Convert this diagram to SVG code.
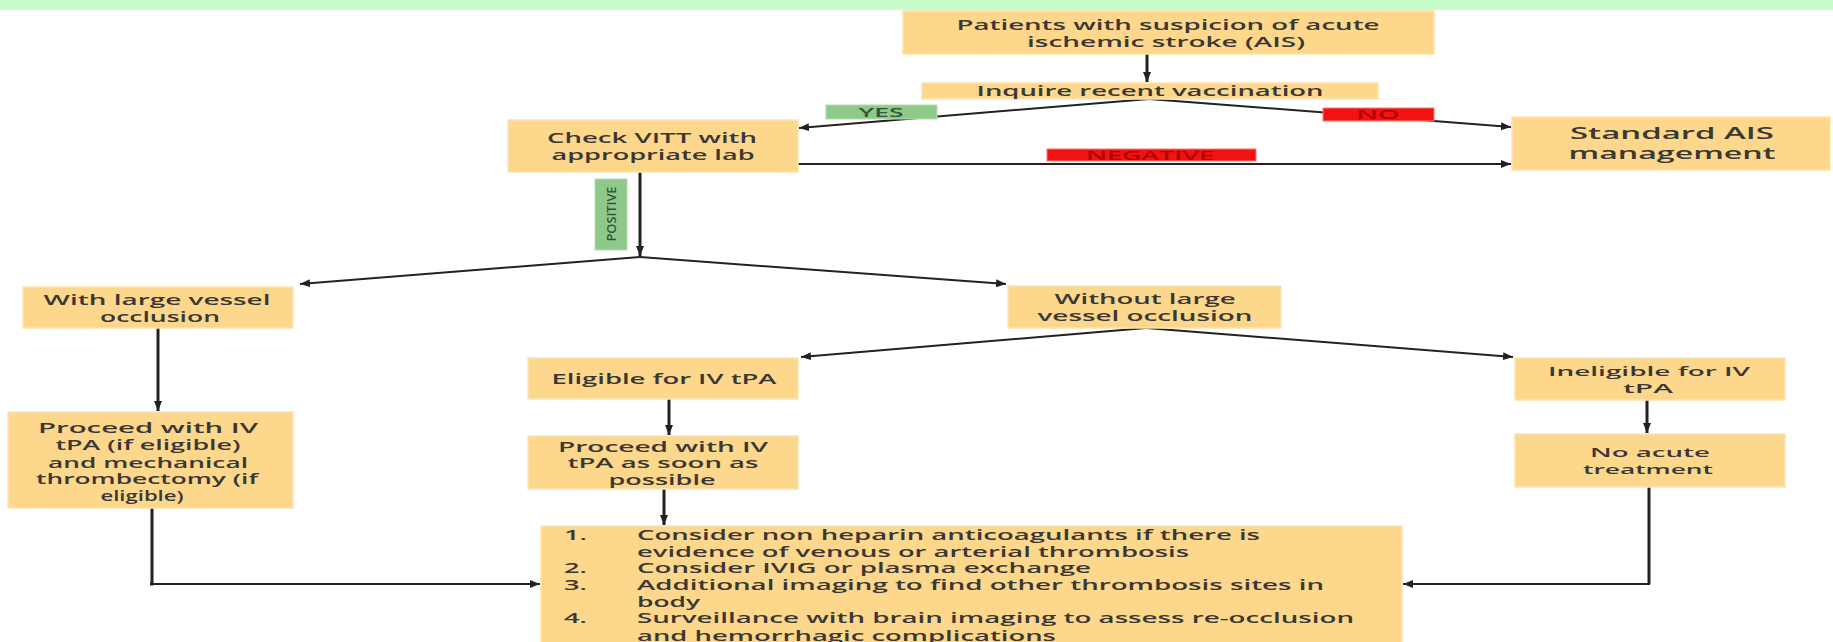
<svg xmlns="http://www.w3.org/2000/svg" width="1833" height="642" viewBox="0 0 1833 642">
<style>
.box{fill:#fcd78c;stroke:#fbe4b4;stroke-width:1.5}
.t{font-family:"Open Sans","Liberation Sans",sans-serif;font-weight:600;font-size:14px;fill:#3a3835;text-anchor:middle}
.tl{font-family:"Open Sans","Liberation Sans",sans-serif;font-weight:600;font-size:14px;fill:#3a3835;text-anchor:start}
.sm{font-size:12.5px}
.big{font-size:17px}
.c{fill:none;stroke:#222;stroke-width:2}
.k{fill:none;stroke:#222;stroke-width:3}
.g{fill:#8fc98a;stroke:#b5dcb0;stroke-width:1}
.r{fill:#f31212;stroke:#f87a7a;stroke-width:1}
.lg{font-family:"Open Sans","Liberation Sans",sans-serif;font-weight:600;font-size:12px;fill:#33553a;text-anchor:middle}
.lr{font-family:"Open Sans","Liberation Sans",sans-serif;font-weight:600;font-size:12px;fill:#b00000;text-anchor:middle}
</style>
<defs>
<marker id="ah" markerUnits="userSpaceOnUse" markerWidth="11" markerHeight="9" refX="10" refY="4" orient="auto">
<path d="M0,0 L10,4 L0,8 z" fill="#222"/>
</marker>
</defs>
<rect x="0" y="0" width="1833" height="642" fill="#ffffff"/>
<rect x="0" y="0" width="1833" height="10" fill="#c8fdcb"/>

<g id="connectors">
<line class="k" x1="1147" y1="54" x2="1147" y2="82" marker-end="url(#ah)"/>
<line class="c" x1="1149" y1="99" x2="799" y2="128" marker-end="url(#ah)"/>
<line class="c" x1="1149" y1="99" x2="1511" y2="127" marker-end="url(#ah)"/>
<line class="c" x1="798" y1="164" x2="1511" y2="164" marker-end="url(#ah)"/>
<line class="k" x1="640" y1="172" x2="640" y2="256" marker-end="url(#ah)"/>
<line class="c" x1="640" y1="257" x2="300" y2="284" marker-end="url(#ah)"/>
<line class="c" x1="640" y1="257" x2="1006" y2="284" marker-end="url(#ah)"/>
<line class="k" x1="158" y1="328" x2="158" y2="411" marker-end="url(#ah)"/>
<line class="c" x1="1146" y1="328" x2="801" y2="357" marker-end="url(#ah)"/>
<line class="c" x1="1146" y1="328" x2="1513" y2="357" marker-end="url(#ah)"/>
<line class="k" x1="669" y1="399" x2="669" y2="435" marker-end="url(#ah)"/>
<line class="k" x1="1647" y1="400" x2="1647" y2="433" marker-end="url(#ah)"/>
<line class="k" x1="664" y1="489" x2="664" y2="525" marker-end="url(#ah)"/>
<polyline class="k" points="152,508 152,584 150,584"/>
<polyline class="c" points="151,584 540,584" marker-end="url(#ah)"/>
<polyline class="k" points="1649,487 1649,584"/>
<polyline class="c" points="1650,584 1403,584" marker-end="url(#ah)"/>
</g>

<g id="label-yes"><rect class="g" x="826" y="105" width="111" height="14"/><text class="lg" x="881" y="116.5" textLength="45" lengthAdjust="spacingAndGlyphs">YES</text></g>
<g id="label-no"><rect class="r" x="1323" y="108" width="111" height="13"/><text class="lr" x="1378" y="119" textLength="43" lengthAdjust="spacingAndGlyphs">NO</text></g>
<g id="label-negative"><rect class="r" x="1047" y="149" width="209" height="12"/><text class="lr" x="1150" y="159.5" textLength="128" lengthAdjust="spacingAndGlyphs">NEGATIVE</text></g>
<g id="label-positive"><rect class="g" x="595" y="179" width="32" height="71"/><text class="lg" transform="translate(615.5,214) rotate(-90)" x="0" y="0" textLength="55" lengthAdjust="spacingAndGlyphs">POSITIVE</text></g>

<g id="n-patients"><rect class="box" x="903" y="11" width="531" height="43"/>
<text class="t" x="1168" y="30" textLength="423" lengthAdjust="spacingAndGlyphs">Patients with suspicion of acute</text>
<text class="t" x="1166" y="47" textLength="278" lengthAdjust="spacingAndGlyphs">ischemic stroke (AIS)</text></g>

<g id="n-inquire"><rect class="box" x="922" y="83" width="456" height="16"/>
<text class="t" x="1150" y="96" textLength="347" lengthAdjust="spacingAndGlyphs">Inquire recent vaccination</text></g>

<g id="n-check"><rect class="box" x="508" y="120" width="290" height="52"/>
<text class="t" x="652" y="143" textLength="210" lengthAdjust="spacingAndGlyphs">Check VITT with</text>
<text class="t" x="653" y="160" textLength="203" lengthAdjust="spacingAndGlyphs">appropriate lab</text></g>

<g id="n-standard"><rect class="box" x="1512" y="117" width="318" height="53"/>
<text class="t big" x="1672" y="139" textLength="204" lengthAdjust="spacingAndGlyphs">Standard AIS</text>
<text class="t big" x="1672" y="159" textLength="207" lengthAdjust="spacingAndGlyphs">management</text></g>

<g id="n-with"><rect class="box" x="23" y="287" width="270" height="41"/>
<text class="t" x="157" y="305" textLength="227" lengthAdjust="spacingAndGlyphs">With large vessel</text>
<text class="t" x="160" y="322" textLength="120" lengthAdjust="spacingAndGlyphs">occlusion</text></g>

<g id="n-without"><rect class="box" x="1008" y="286" width="273" height="42"/>
<text class="t" x="1145" y="304" textLength="181" lengthAdjust="spacingAndGlyphs">Without large</text>
<text class="t" x="1145" y="321" textLength="215" lengthAdjust="spacingAndGlyphs">vessel occlusion</text></g>

<g id="n-proceed1"><rect class="box" x="8" y="412" width="285" height="96"/>
<text class="t" x="148" y="433" textLength="220" lengthAdjust="spacingAndGlyphs">Proceed with IV</text>
<text class="t" x="148" y="450" textLength="185" lengthAdjust="spacingAndGlyphs">tPA (if eligible)</text>
<text class="t" x="148" y="468" textLength="200" lengthAdjust="spacingAndGlyphs">and mechanical</text>
<text class="t" x="147" y="484" textLength="222" lengthAdjust="spacingAndGlyphs">thrombectomy  (if</text>
<text class="t" x="142" y="501" textLength="83" lengthAdjust="spacingAndGlyphs">eligible)</text></g>

<g id="n-eligible"><rect class="box" x="528" y="358" width="270" height="41"/>
<text class="t" x="664" y="384" textLength="225" lengthAdjust="spacingAndGlyphs">Eligible for IV tPA</text></g>

<g id="n-proceed2"><rect class="box" x="528" y="436" width="270" height="53"/>
<text class="t" x="663" y="452" textLength="210" lengthAdjust="spacingAndGlyphs">Proceed with IV</text>
<text class="t" x="663" y="468" textLength="191" lengthAdjust="spacingAndGlyphs">tPA as soon as</text>
<text class="t" x="662" y="485" textLength="107" lengthAdjust="spacingAndGlyphs">possible</text></g>

<g id="n-ineligible"><rect class="box" x="1515" y="358" width="270" height="42"/>
<text class="t sm" x="1649" y="376" textLength="202" lengthAdjust="spacingAndGlyphs">Ineligible for IV</text>
<text class="t sm" x="1648" y="393" textLength="50" lengthAdjust="spacingAndGlyphs">tPA</text></g>

<g id="n-noacute"><rect class="box" x="1515" y="434" width="270" height="53"/>
<text class="t sm" x="1650" y="457" textLength="120" lengthAdjust="spacingAndGlyphs">No acute</text>
<text class="t sm" x="1648" y="474" textLength="130" lengthAdjust="spacingAndGlyphs">treatment</text></g>

<g id="n-actions"><rect class="box" x="541" y="526" width="861" height="130"/>
<text class="tl" x="564" y="540" textLength="23" lengthAdjust="spacingAndGlyphs">1.</text>
<text class="tl" x="637" y="540" textLength="623" lengthAdjust="spacingAndGlyphs">Consider non heparin anticoagulants if there is</text>
<text class="tl" x="637" y="557" textLength="552" lengthAdjust="spacingAndGlyphs">evidence of venous or arterial thrombosis</text>
<text class="tl" x="564" y="573" textLength="23" lengthAdjust="spacingAndGlyphs">2.</text>
<text class="tl" x="637" y="573" textLength="454" lengthAdjust="spacingAndGlyphs">Consider IVIG or plasma exchange</text>
<text class="tl" x="564" y="590" textLength="23" lengthAdjust="spacingAndGlyphs">3.</text>
<text class="tl" x="637" y="590" textLength="687" lengthAdjust="spacingAndGlyphs">Additional imaging to find other thrombosis sites in</text>
<text class="tl" x="637" y="607" textLength="63" lengthAdjust="spacingAndGlyphs">body</text>
<text class="tl" x="564" y="623" textLength="23" lengthAdjust="spacingAndGlyphs">4.</text>
<text class="tl" x="637" y="623" textLength="717" lengthAdjust="spacingAndGlyphs">Surveillance with brain imaging to assess re-occlusion</text>
<text class="tl" x="637" y="641" textLength="419" lengthAdjust="spacingAndGlyphs">and hemorrhagic complications</text></g>
</svg>
